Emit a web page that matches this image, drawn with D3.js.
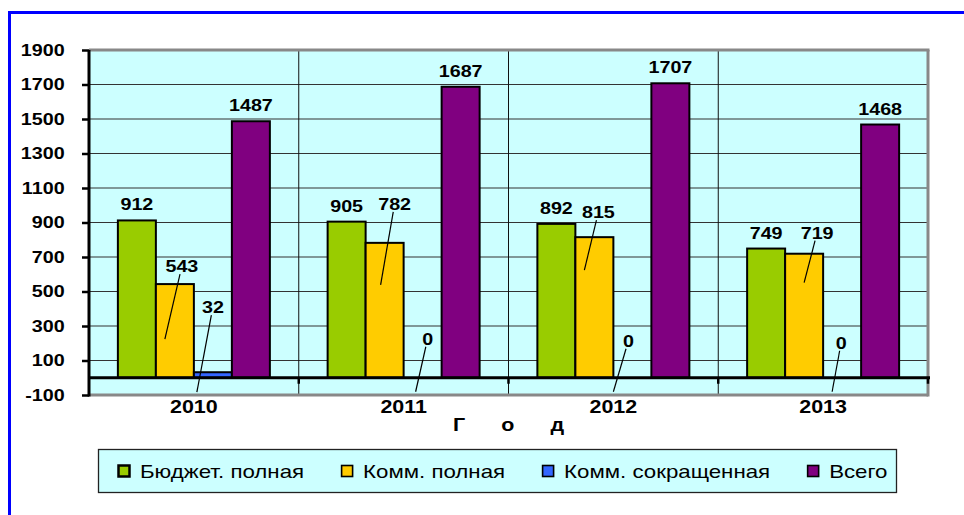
<!DOCTYPE html>
<html>
<head>
<meta charset="utf-8">
<script src="https://cdn.jsdelivr.net/npm/d3@7"></script>
<style>
  html, body { margin: 0; padding: 0; background: #ffffff; }
  svg { display: block; }
  text { font-family: "Liberation Sans", Arial, sans-serif; fill: #000; }
</style>
</head>
<body>
<div id="chart"></div>
<script>
// ---------- data ----------
const years = ["2010", "2011", "2012", "2013"];
const seriesNames = ["Бюджет. полная", "Комм. полная", "Комм. сокращенная", "Всего"];
const budgetFull = [912, 905, 892, 749];
const commFull = [543, 782, 815, 719];
const commShort = [32, 0, 0, 0];
const total = [1487, 1687, 1707, 1468];
const yTicks = [-100, 100, 300, 500, 700, 900, 1100, 1300, 1500, 1700, 1900];
const xTitle = "Г о д";

// ---------- style / layout ----------
const colors = ["#99CC00", "#FFCC00", "#3366FF", "#800080"];
const SX = 1.16; // horizontal text stretch of the original
const W = 964, H = 515;
const plot = { left: 89, right: 928, top: 50, bottom: 395 };
// manually placed labels (pixel offsets from default spot) with leader lines
const movedLabels = {
  1: { shift: [[7, -18], [10, -39], [4, -25], [13, -21]], lead: [[-17, 73], [-14, 81], [-14, 58], [-13, 50]] },
  2: { shift: [[0, -65], [5, -39], [-4, -37], [-1, -35]], lead: [[-16, 85], [-12, 53], [-15, 51], [-9, 49]] }
};

const values = [budgetFull, commFull, commShort, total];

const svg = d3.select("#chart").append("svg").attr("width", W).attr("height", H);

function txt(parent, x, y, s, size, weight, anchor) {
  return parent.append("text")
    .attr("transform", `translate(${x},${y}) scale(${SX},1)`)
    .attr("text-anchor", anchor || "middle")
    .attr("dominant-baseline", "central")
    .style("font-size", size + "px")
    .style("font-weight", weight || "normal")
    .text(s);
}

// outer blue frame
svg.append("rect").attr("x", 9.5).attr("y", 12.5).attr("width", 1100).attr("height", 700)
  .attr("fill", "#ffffff").attr("stroke", "#0000FF").attr("stroke-width", 3);

const y = d3.scaleLinear().domain([-100, 1900]).range([plot.bottom, plot.top]);
const x0 = d3.scaleBand().domain(years).range([plot.left, plot.right]).padding(0);
const x1 = d3.scaleBand().domain(d3.range(seriesNames.length)).range([0, x0.bandwidth()])
  .paddingInner(0).paddingOuter(0.76);

// plot background
svg.append("rect").attr("x", plot.left).attr("y", plot.top)
  .attr("width", plot.right - plot.left).attr("height", plot.bottom - plot.top)
  .attr("fill", "#CCFFFF");

// horizontal gridlines
svg.append("g").selectAll("line").data(yTicks.filter(t => t !== -100 && t !== 1900)).join("line")
  .attr("x1", plot.left).attr("x2", plot.right)
  .attr("y1", d => y(d)).attr("y2", d => y(d))
  .attr("stroke", "#333").attr("stroke-width", 1.2);

// vertical category separators
svg.append("g").selectAll("line").data(years.slice(1)).join("line")
  .attr("x1", d => x0(d)).attr("x2", d => x0(d))
  .attr("y1", plot.top).attr("y2", plot.bottom)
  .attr("stroke", "#111").attr("stroke-width", 1);

// bars
const groups = svg.append("g").selectAll("g").data(years).join("g")
  .attr("transform", d => `translate(${x0(d)},0)`);
groups.selectAll("rect").data((d, i) => values.map((vals, s) => ({ s, v: vals[i] })))
  .join("rect")
  .filter(d => d.v > 0)
  .attr("x", d => x1(d.s))
  .attr("width", x1.bandwidth())
  .attr("y", d => y(d.v))
  .attr("height", d => y(0) - y(d.v))
  .attr("fill", d => colors[d.s])
  .attr("stroke", "#000").attr("stroke-width", 2);

// borders
svg.append("line").attr("x1", plot.left).attr("x2", plot.right + 1.5).attr("y1", plot.top).attr("y2", plot.top)
  .attr("stroke", "#888").attr("stroke-width", 3);
svg.append("line").attr("x1", plot.right).attr("x2", plot.right).attr("y1", plot.top).attr("y2", plot.bottom + 1.5)
  .attr("stroke", "#888").attr("stroke-width", 3);
svg.append("line").attr("x1", plot.left).attr("x2", plot.right).attr("y1", plot.bottom).attr("y2", plot.bottom)
  .attr("stroke", "#888").attr("stroke-width", 3);

// zero line (category axis) with ticks
svg.append("line").attr("x1", plot.left).attr("x2", plot.right + 2).attr("y1", y(0)).attr("y2", y(0))
  .attr("stroke", "#000").attr("stroke-width", 3);
svg.append("g").selectAll("line").data(years.slice(1).concat(["end"])).join("line")
  .attr("x1", d => d === "end" ? plot.right : x0(d)).attr("x2", d => d === "end" ? plot.right : x0(d))
  .attr("y1", y(0)).attr("y2", y(0) + 6)
  .attr("stroke", "#000").attr("stroke-width", 2.5);

// y axis
const yAxis = svg.append("g").attr("transform", `translate(${plot.left},0)`)
  .call(d3.axisLeft(y).tickValues(yTicks).tickSize(7).tickPadding(14).tickFormat(d => String(d)));
yAxis.select(".domain").attr("stroke", "#000").attr("stroke-width", 3)
  .attr("d", `M0,${plot.top}V${plot.bottom + 1.5}`);
yAxis.selectAll(".tick line").attr("stroke", "#000").attr("stroke-width", 2.5);
yAxis.selectAll(".tick text")
  .attr("transform", `scale(${SX},1)`)
  .style("font-size", "17px").style("font-weight", "bold")
  .style("font-family", "'Liberation Sans', Arial, sans-serif").attr("fill", "#000");

// x labels
years.forEach(yr => txt(svg, x0(yr) + x0.bandwidth() / 2, 407, yr, 18.5, "bold"));
// axis title
txt(svg, (plot.left + plot.right) / 2, 425, xTitle, 18.5, "bold").style("word-spacing", "26px");

// data labels
const labels = svg.append("g");
years.forEach((yr, i) => {
  values.forEach((vals, s) => {
    const v = vals[i];
    const cx = x0(yr) + x1(s) + x1.bandwidth() / 2;
    const top = y(v);
    if (movedLabels[s]) {
      const sh = movedLabels[s].shift[i], ld = movedLabels[s].lead[i];
      const lx = cx + sh[0], ly = top + sh[1];
      const ex = lx + ld[0], ey = ly + ld[1];
      const sy = ly + 8;
      const t = (sy - ly) / (ey - ly);
      const sxp = lx + (ex - lx) * t;
      labels.append("line").attr("x1", sxp).attr("y1", sy).attr("x2", ex).attr("y2", ey)
        .attr("stroke", "#000").attr("stroke-width", 1.2);
      txt(labels, lx, ly, String(v), 17, "bold");
    } else {
      txt(labels, cx, top - 16, String(v), 17, "bold");
    }
  });
});

// legend
const lg = svg.append("g");
lg.append("rect").attr("x", 98.5).attr("y", 449.5).attr("width", 798).attr("height", 43)
  .attr("fill", "#CCFFFF").attr("stroke", "#222").attr("stroke-width", 1.3);
let lx = 118;
seriesNames.forEach((name, s) => {
  lg.append("rect").attr("x", lx + 0.5).attr("y", 465.5).attr("width", 11).attr("height", 11)
    .attr("fill", colors[s]).attr("stroke", "#000").attr("stroke-width", s === 0 ? 2.5 : 1.6);
  const t = txt(lg, lx + 22, 471, name, 19.2, "normal", "start");
  const w = t.node().getComputedTextLength() * SX;
  lx = lx + 22 + w + 37;
});
</script>
</body>
</html>
